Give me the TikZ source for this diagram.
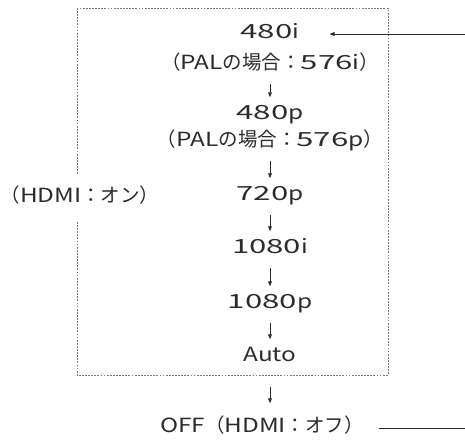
\documentclass[tikz,border=0pt]{standalone}
\usepackage{fontspec}
\setmainfont{Noto Sans CJK JP}
\newfontfamily\latwide{Noto Sans CJK JP}[FakeStretch=1.25]
\newfontfamily\digwide{Noto Sans CJK JP}[FakeStretch=1.6]
\newcommand{\lat}[1]{{\latwide #1}}
\newcommand{\dig}[1]{{\digwide #1}}
\usepackage{tikz}
\usetikzlibrary{arrows.meta}
\definecolor{ink}{HTML}{2B2B2B}
\definecolor{framegray}{HTML}{7A7A7A}
\tikzset{
  itemnode/.style  = {inner sep=0pt, text height=13pt, text depth=4pt,
                      font=\fontsize{19.5}{23}\selectfont, text=ink},
  sidenode/.style  = {itemnode, fill=white, minimum height=47pt},
  frame/.style     = {framegray, line width=0.9pt, dash pattern=on 1.8pt off 1.3pt},
  flow/.style      = {-{Triangle[length=5pt, width=3.8pt]}, line width=0.8pt, ink,
                      shorten <=10pt, shorten >=9pt},
  looplink/.style  = {line width=0.8pt, ink},
}

\begin{document}
\begin{tikzpicture}[x=1pt, y=-1pt]
  \useasboundingbox (0,0) rectangle (465,441);

  % --- dotted frame (HDMI on) ---------------------------------------------
  \draw[frame] (77,8) rectangle (388,375);
  \node[sidenode] (hdmion) at (80,198) {（\lat{HDMI}：オン）};

  % --- output formats ------------------------------------------------------
  \node[itemnode] (m480i)   at (270,34)  {\dig{480}\lat{i}};
  \node[itemnode] (pal576i) at (270,65)  {（\lat{PAL}の場合：\dig{576}\lat{i}）};
  \node[itemnode] (m480p)   at (270,115) {\dig{480}\lat{p}};
  \node[itemnode] (pal576p) at (270,142) {（\lat{PAL}の場合：\dig{576}\lat{p}）};
  \node[itemnode] (m720p)   at (270,196) {\dig{720}\lat{p}};
  \node[itemnode] (m1080i)  at (270,249) {\dig{1080}\lat{i}};
  \node[itemnode] (m1080p)  at (270,304) {\dig{1080}\lat{p}};
  \node[itemnode] (auto)    at (270,357) {\lat{Auto}};
  \node[itemnode] (off)     at (262,428) {\lat{OFF}（\lat{HDMI}：オフ）};

  % --- steps ---------------------------------------------------------------
  \draw[flow] (pal576i) -- (m480p);
  \draw[flow] (pal576p) -- (m720p);
  \draw[flow] (m720p) -- (m1080i);
  \draw[flow] (m1080i) -- (m1080p);
  \draw[flow] (m1080p) -- (auto);
  \draw[flow, shorten <=21pt, shorten >=16pt] (auto.south) -- (auto.south |- off.north);

  % --- back to the start ---------------------------------------------------
  \coordinate (loopout) at (465,428);
  \coordinate (loopin)  at (465,34);
  \draw[looplink, shorten <=15pt] (off) -- (loopout);
  \draw[flow, shorten <=0pt, shorten >=30pt] (loopin) -- (m480i);

\end{tikzpicture}
\end{document}
